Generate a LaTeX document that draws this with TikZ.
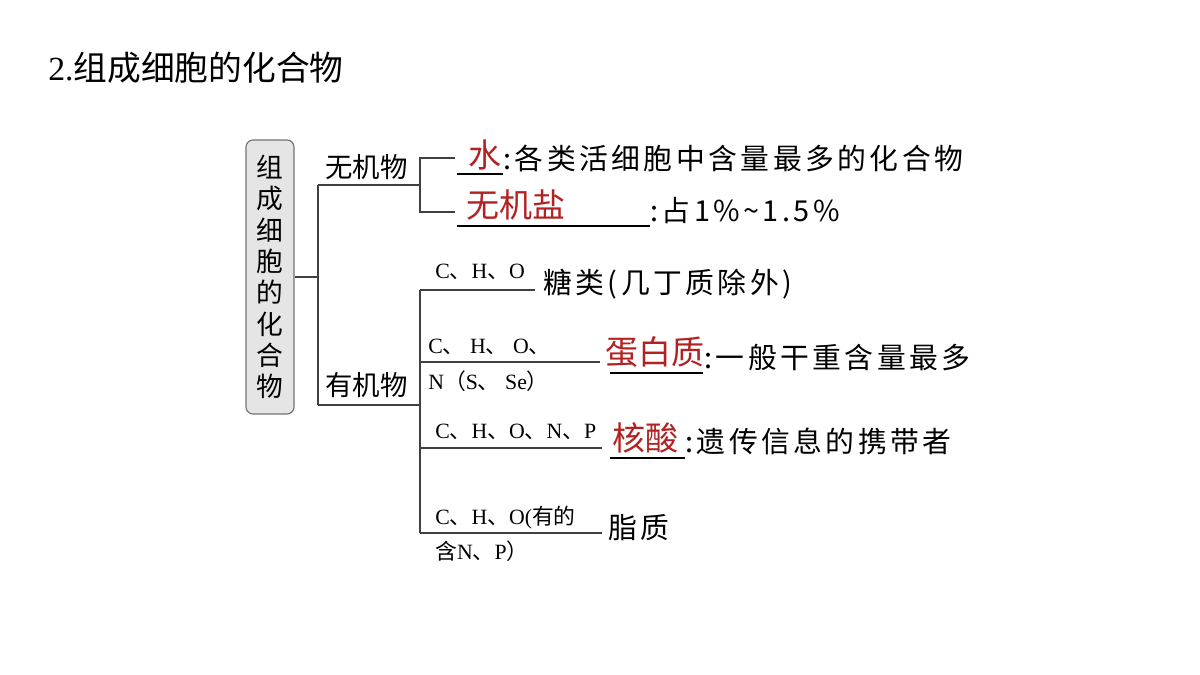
\documentclass[tikz,border=0pt]{standalone}
\usepackage{fontspec}
\setmainfont{Liberation Serif}
\newfontfamily\cjk{Noto Sans CJK SC}
\newfontfamily\cjkw[LetterSpace=12]{Noto Sans CJK SC}
\newcommand{\dn}{{\cjk 、}}
\definecolor{hongse}{HTML}{B22222}
\tikzset{
  br/.style={draw=black!75, line width=0.8pt},
  zi/.style={font=\cjkw\fontsize{20.5}{24}\selectfont, inner sep=0pt, anchor=west},
  lei/.style={font=\cjk\fontsize{19.5}{23}\selectfont, inner sep=0pt, anchor=west},
  hong/.style={font=\cjk\fontsize{23.5}{27}\selectfont, text=hongse, inner sep=0pt},
  yuan/.style={font=\fontsize{15.5}{18}\selectfont, inner sep=0pt, anchor=west},
  xian/.style={draw=black, line width=0.8pt}
}
\begin{document}
\begin{tikzpicture}[x=0.025cm, y=-0.025cm]
\useasboundingbox (0,0) rectangle (1200,675);

\node (title) [anchor=west, inner sep=0pt, font=\fontsize{24}{28}\selectfont] at (48,68) {2.{\cjk 组成细胞的化合物}};

% left box
\node (box) [draw=black!55, fill=black!10, rounded corners=5pt, line width=0.8pt,
  minimum width=48*0.025cm, minimum height=274*0.025cm, inner sep=0pt,
  align=center, font=\cjk\fontsize{19}{22.3}\selectfont] at (270,277)
  {组\\成\\细\\胞\\的\\化\\合\\物};

% first level
\coordinate (j0) at (318,277);
\draw[br] (box.east) -- (j0);
\draw[br] (318,185) -- (318,405);
\draw[br] (318,185) -- (420,185);
\draw[br] (318,405) -- (420,405);
\node (wjw) [lei] at (325,167) {无机物};
\node (yjw) [lei] at (325,385) {有机物};

% inorganic
\draw[br] (455,158) -- (420,158) -- (420,212) -- (455,212);
\node (shui) [hong] at (485,155) {水};
\draw[xian] (457,174) -- (503,174);
\node (shuit) [zi] at (503,158) {:各类活细胞中含量最多的化合物};
\node (yan) [hong, anchor=west] at (466,205) {无机盐};
\draw[xian] (457,226) -- (650,226);
\node (yant) [zi] at (650,211) {:占1\%\textasciitilde1.5\%};

% organic
\draw[br] (420,290) -- (420,533);
\draw[br] (420,290) -- (535,290);
\draw[br] (420,362) -- (600,362);
\draw[br] (420,448) -- (602,448);
\draw[br] (420,533) -- (602,533);

\node (e1) [yuan] at (435,272) {C\dn H\dn O};
\node (tang) [zi] at (543,284) {糖类(几丁质除外)};

\node (e2a) [yuan] at (428,347) {C\dn\ H\dn\ O\dn};
\node (e2b) [yuan] at (428,381) {N{\cjk （}S\dn\ Se{\cjk ）}};
\node (dbz) [hong, anchor=west] at (605,352) {蛋白质};
\draw[xian] (610,373) -- (703,373);
\node (dbzt) [zi] at (704,358) {:一般干重含量最多};

\node (e3) [yuan] at (435,432) {C\dn H\dn O\dn N\dn P};
\node (hs) [hong, anchor=west] at (612,438) {核酸};
\draw[xian] (610,458) -- (685,458);
\node (hst) [zi] at (685,441) {:遗传信息的携带者};

\node (e4a) [yuan] at (435,518) {C\dn H\dn O({\cjk 有的}};
\node (e4b) [yuan] at (435,551) {{\cjk 含}N\dn P{\cjk ）}};
\node (zz) [zi] at (608,528) {脂质};
\end{tikzpicture}
\end{document}
